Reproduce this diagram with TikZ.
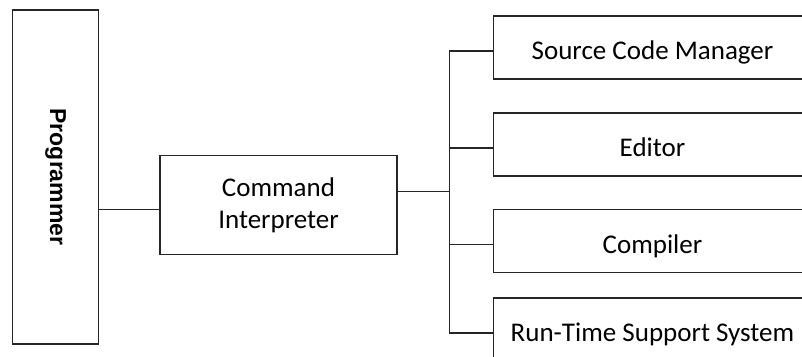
\documentclass[tikz,border=0pt]{standalone}
\usepackage{fontspec}
\setmainfont{Carlito}
\newfontfamily\arialfont{Liberation Sans}
\usetikzlibrary{positioning}

\tikzset{
  box/.style={draw=black!85, line width=1.3pt, rectangle, inner sep=0pt},
  unit/.style={box, minimum width=318pt, minimum height=63pt,
    font=\fontsize{27}{33}\selectfont, text height=24pt, text depth=0pt},
  wire/.style={draw=black!85, line width=1.3pt}
}

\begin{document}
\begin{tikzpicture}[x=1pt,y=-1pt]
  \clip (0,0) rectangle (802,356);
  \node[box, minimum width=86pt, minimum height=334pt] (prog) at (55.5,177)
    {\rotatebox{-90}{\arialfont\bfseries\fontsize{23}{27}\selectfont Programmer}};
  \node[box, minimum width=237pt, minimum height=99pt, align=center,
    font=\fontsize{27}{34}\selectfont] (cmd) at (278.5,205.3)
    {\raisebox{-2pt}{Command}\\Interpreter};
  \node[unit] (scm) at (652.5,47.5) {Source Code Manager};
  \node[unit] (edit) at (652.5,144.5) {Editor};
  \node[unit] (comp) at (652.5,241.3) {Compiler};
  \node[unit] (rts) at (652.5,329.5) {Run-Time Support System};
  \coordinate (bus) at (449.3,191.7);
  % connectors
  \draw[wire] ([yshift=-4.4pt]cmd.west -| prog.east) -- ([yshift=-4.4pt]cmd.west);
  \draw[wire] (cmd.east |- bus) -- (bus);
  \draw[wire] ([yshift=-3.5pt]scm.west -| bus) -- ([yshift=-3.8pt]rts.west -| bus);
  \foreach \n in {scm,edit,comp,rts}
    \draw[wire] ([yshift=-3.5pt]\n.west -| bus) -- ([yshift=-3.5pt]\n.west);
\end{tikzpicture}
\end{document}
